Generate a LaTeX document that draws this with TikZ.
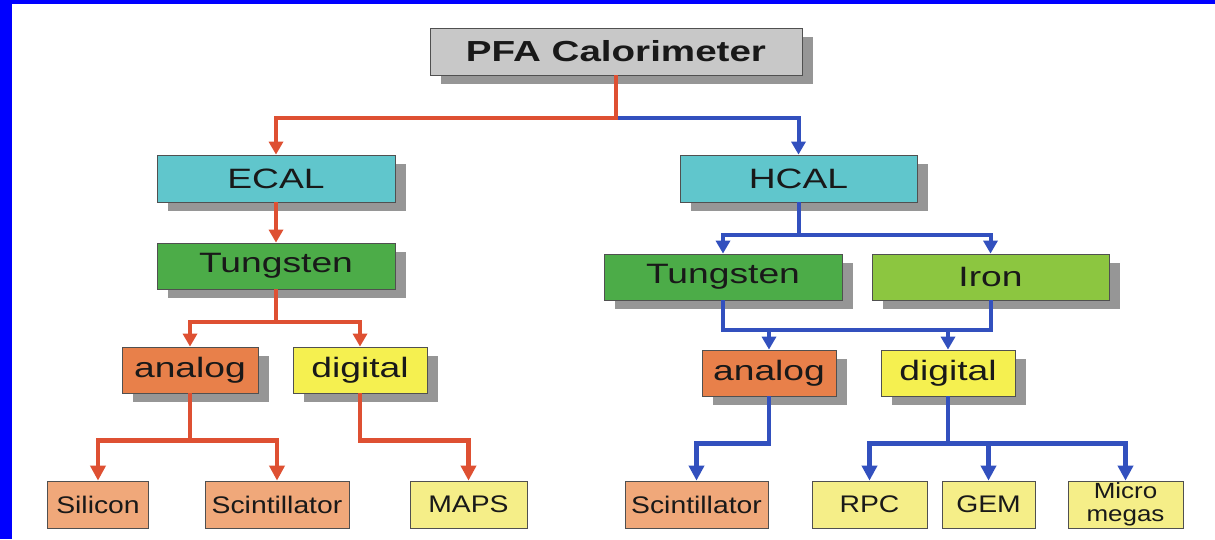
\documentclass[tikz,border=0pt]{standalone}
\usepackage{fontspec}
\setmainfont{Liberation Sans}[FakeStretch=1.33]
\newfontfamily\lowfont{Liberation Sans}[FakeStretch=1.18]
\usetikzlibrary{arrows.meta,shadows}
\definecolor{frameblue}{RGB}{0,0,255}
\definecolor{pfagray}{RGB}{200,200,200}
\definecolor{shadowgray}{RGB}{150,150,150}
\definecolor{boxline}{RGB}{80,80,80}
\definecolor{calcyan}{RGB}{96,198,204}
\definecolor{tungreen}{RGB}{76,172,72}
\definecolor{ironGreen}{RGB}{140,198,64}
\definecolor{anaorange}{RGB}{232,128,74}
\definecolor{digyellow}{RGB}{245,240,80}
\definecolor{lightorange}{RGB}{240,168,122}
\definecolor{lightyellow}{RGB}{245,238,136}
\definecolor{linered}{RGB}{222,80,50}
\definecolor{lineblue}{RGB}{50,80,190}
\definecolor{textdark}{RGB}{25,25,25}
\begin{document}
\begin{tikzpicture}[x=1pt,y=-1pt,
  box/.style={draw=boxline, line width=0.8pt, inner sep=0pt, text=textdark, align=center},
  shad/.style={drop shadow={shadow xshift=11pt, shadow yshift=-9pt, fill=shadowgray, opacity=1}},
  big/.style={font=\fontsize{28}{30}\selectfont},
  small/.style={font=\lowfont\fontsize{24}{26}\selectfont},
  redl/.style={draw=linered, line width=4pt},
  bluel/.style={draw=lineblue, line width=4pt},
  redlb/.style={draw=linered, line width=4.8pt},
  bluelb/.style={draw=lineblue, line width=4.8pt},
  tip/.style={-{Triangle[width=14pt,length=13pt]}},
  tipb/.style={-{Triangle[width=15pt,length=15pt]}}
]
\fill[frameblue] (0,0) rectangle (1215,539);
\fill[white] (12,4) rectangle (1215,539);
\useasboundingbox (0,0) rectangle (1215,539);

% top
\node[box, shad, fill=pfagray, minimum width=372pt, minimum height=47pt,
      font=\fontsize{29}{31}\selectfont\bfseries] (pfa) at (616,51.5) {PFA Calorimeter};
\node[box, shad, big, fill=calcyan, minimum width=238pt, minimum height=47pt] (ecal) at (276,178.5) {ECAL};
\node[box, shad, big, fill=calcyan, minimum width=237pt, minimum height=47pt] (hcal) at (798.5,178.5) {HCAL};
% absorbers
\node[box, shad, big, fill=tungreen, minimum width=238pt, minimum height=46pt] (tungL) at (276,266) {Tungsten};
\node[box, shad, big, fill=tungreen, minimum width=238pt, minimum height=46pt] (tungR) at (723,277) {Tungsten};
\node[box, shad, big, fill=ironGreen, minimum width=237pt, minimum height=46pt] (iron) at (990.5,277) {Iron};
% readout
\node[box, shad, big, fill=anaorange, minimum width=136pt, minimum height=46pt] (anaL) at (190,370) {analog};
\node[box, shad, big, fill=digyellow, minimum width=134pt, minimum height=46pt] (digL) at (360,370) {digital};
\node[box, shad, big, fill=anaorange, minimum width=134pt, minimum height=46pt] (anaR) at (769,373) {analog};
\node[box, shad, big, fill=digyellow, minimum width=134pt, minimum height=46pt] (digR) at (948,373) {digital};
% technologies
\node[box, small, fill=lightorange, minimum width=101pt, minimum height=47pt] (sil) at (98,504.5) {Silicon};
\node[box, small, fill=lightorange, minimum width=144pt, minimum height=47pt] (scL) at (277,504.5) {Scintillator};
\node[box, small, fill=lightyellow, minimum width=117pt, minimum height=47pt] (maps) at (468.5,504.5) {MAPS};
\node[box, small, fill=lightorange, minimum width=143pt, minimum height=47pt] (scR) at (696.5,504.5) {Scintillator};
\node[box, small, fill=lightyellow, minimum width=115pt, minimum height=47pt] (rpc) at (869.5,504.5) {RPC};
\node[box, small, fill=lightyellow, minimum width=93pt, minimum height=47pt] (gem) at (988.5,504.5) {GEM};
\node[box, font=\lowfont\fontsize{22}{22.5}\selectfont, fill=lightyellow, minimum width=115pt, minimum height=47pt] (micro) at (1125.5,504.5) {Micro\\megas};

% connectors: top
\draw[bluel, tip] (pfa.south) ++(0,43) -| (hcal.north);
\draw[redl, tip] (pfa.south) -- ++(0,43) -| (ecal.north);
% ECAL side
\draw[redl, tip] (ecal.south) -- (tungL.north);
\draw[redl, tip] (tungL.south) -- ++(0,33) -| (anaL.north);
\draw[redl, tip] (tungL.south) ++(0,33) -| (digL.north);
\draw[redlb, tipb] (anaL.south) -- ++(0,47) -| (sil.north);
\draw[redlb, tipb] (anaL.south) ++(0,47) -| (scL.north);
\draw[redlb, tipb] (digL.south) -- ++(0,47) -| (maps.north);
% HCAL side
\draw[bluel, tip] (hcal.south) -- ++(0,33) -| (tungR.north);
\draw[bluel, tip] (hcal.south) ++(0,33) -| (iron.north);
\coordinate (jR) at ([yshift=-30pt]tungR.south);
\draw[bluel] (tungR.south) -- (jR) -| (iron.south);
\draw[bluel, tip] (anaR.north |- jR) -- (anaR.north);
\draw[bluel, tip] (digR.north |- jR) -- (digR.north);
\draw[bluelb, tipb] (anaR.south) -- ++(0,47) -| (scR.north);
\draw[bluelb, tipb] (digR.south) -- ++(0,47) -| (rpc.north);
\draw[bluelb, tipb] (digR.south) ++(0,47) -| (gem.north);
\draw[bluelb, tipb] (digR.south) ++(0,47) -| (micro.north);
\end{tikzpicture}
\end{document}
